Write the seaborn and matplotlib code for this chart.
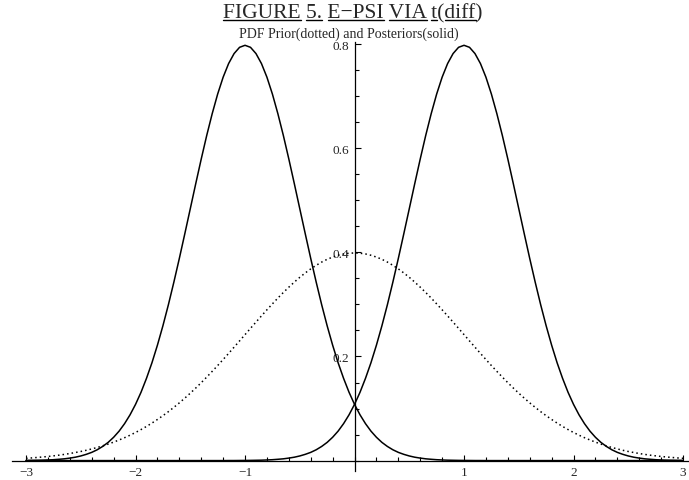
import numpy as np
import pandas as pd
import matplotlib
matplotlib.use('Agg')
import matplotlib.pyplot as plt
import seaborn as sns
from matplotlib.ticker import MultipleLocator
from matplotlib.lines import Line2D

# sample positions (every 0.05 from -3 to 3)
x = np.linspace(-3, 3, 121)

# prior density (dotted)
prior = [0.0044, 0.0051, 0.0060, 0.0069, 0.0079, 0.0091, 0.0104, 0.0119, 0.0136, 0.0155,
         0.0175, 0.0198, 0.0224, 0.0252, 0.0283, 0.0317, 0.0355, 0.0396, 0.0440, 0.0488,
         0.0540, 0.0596, 0.0656, 0.0721, 0.0790, 0.0863, 0.0940, 0.1023, 0.1109, 0.1200,
         0.1295, 0.1394, 0.1497, 0.1604, 0.1714, 0.1826, 0.1942, 0.2059, 0.2179, 0.2299,
         0.2420, 0.2541, 0.2661, 0.2780, 0.2897, 0.3011, 0.3123, 0.3230, 0.3332, 0.3429,
         0.3521, 0.3605, 0.3683, 0.3752, 0.3814, 0.3867, 0.3910, 0.3945, 0.3970, 0.3984,
         0.3989,
         0.3984, 0.3970, 0.3945, 0.3910, 0.3867, 0.3814, 0.3752, 0.3683, 0.3605, 0.3521,
         0.3429, 0.3332, 0.3230, 0.3123, 0.3011, 0.2897, 0.2780, 0.2661, 0.2541, 0.2420,
         0.2299, 0.2179, 0.2059, 0.1942, 0.1826, 0.1714, 0.1604, 0.1497, 0.1394, 0.1295,
         0.1200, 0.1109, 0.1023, 0.0940, 0.0863, 0.0790, 0.0721, 0.0656, 0.0596, 0.0540,
         0.0488, 0.0440, 0.0396, 0.0355, 0.0317, 0.0283, 0.0252, 0.0224, 0.0198, 0.0175,
         0.0155, 0.0136, 0.0119, 0.0104, 0.0091, 0.0079, 0.0069, 0.0060, 0.0051, 0.0044]

# posterior densities (solid)
post_left = [0.0003, 0.0004, 0.0006, 0.0008, 0.0012, 0.0017, 0.0025, 0.0034, 0.0048, 0.0065,
             0.0089, 0.0120, 0.0158, 0.0208, 0.0272, 0.0350, 0.0448, 0.0566, 0.0710, 0.0880,
             0.1080, 0.1312, 0.1580, 0.1880, 0.2218, 0.2590, 0.2994, 0.3428, 0.3884, 0.4358,
             0.4839, 0.5322, 0.5794, 0.6246, 0.6664, 0.7042, 0.7366, 0.7628, 0.7820, 0.7940,
             0.7979,
             0.7940, 0.7820, 0.7628, 0.7366, 0.7042, 0.6664, 0.6246, 0.5794, 0.5322, 0.4839,
             0.4358, 0.3884, 0.3428, 0.2994, 0.2590, 0.2218, 0.1880, 0.1580, 0.1312, 0.1080,
             0.0880, 0.0710, 0.0566, 0.0448, 0.0350, 0.0272, 0.0208, 0.0158, 0.0120, 0.0089,
             0.0065, 0.0048, 0.0034, 0.0025, 0.0017, 0.0012, 0.0008, 0.0006, 0.0004, 0.0003,
             0.0002, 0.0001, 0.0001, 0.0, 0.0, 0.0, 0.0, 0.0, 0.0, 0.0,
             0.0, 0.0, 0.0, 0.0, 0.0, 0.0, 0.0, 0.0, 0.0, 0.0,
             0.0, 0.0, 0.0, 0.0, 0.0, 0.0, 0.0, 0.0, 0.0, 0.0,
             0.0, 0.0, 0.0, 0.0, 0.0, 0.0, 0.0, 0.0, 0.0, 0.0]

post_right = [0.0, 0.0, 0.0, 0.0, 0.0, 0.0, 0.0, 0.0, 0.0, 0.0,
              0.0, 0.0, 0.0, 0.0, 0.0, 0.0, 0.0, 0.0, 0.0, 0.0,
              0.0, 0.0, 0.0, 0.0, 0.0, 0.0, 0.0, 0.0, 0.0, 0.0,
              0.0, 0.0, 0.0, 0.0, 0.0, 0.0, 0.0, 0.0001, 0.0001, 0.0002,
              0.0003, 0.0004, 0.0006, 0.0008, 0.0012, 0.0017, 0.0025, 0.0034, 0.0048, 0.0065,
              0.0089, 0.0120, 0.0158, 0.0208, 0.0272, 0.0350, 0.0448, 0.0566, 0.0710, 0.0880,
              0.1080, 0.1312, 0.1580, 0.1880, 0.2218, 0.2590, 0.2994, 0.3428, 0.3884, 0.4358,
              0.4839, 0.5322, 0.5794, 0.6246, 0.6664, 0.7042, 0.7366, 0.7628, 0.7820, 0.7940,
              0.7979,
              0.7940, 0.7820, 0.7628, 0.7366, 0.7042, 0.6664, 0.6246, 0.5794, 0.5322, 0.4839,
              0.4358, 0.3884, 0.3428, 0.2994, 0.2590, 0.2218, 0.1880, 0.1580, 0.1312, 0.1080,
              0.0880, 0.0710, 0.0566, 0.0448, 0.0350, 0.0272, 0.0208, 0.0158, 0.0120, 0.0089,
              0.0065, 0.0048, 0.0034, 0.0025, 0.0017, 0.0012, 0.0008, 0.0006, 0.0004, 0.0003]

x_ticks = [-3, -2, -1, 1, 2, 3]
x_labels = ['\u22123', '\u22122', '\u22121', '1', '2', '3']
y_ticks = [0.2, 0.4, 0.6, 0.8]
y_labels = ['0.2', '0.4', '0.6', '0.8']

# title pieces: (text, underlined)
title_parts = [('FIGURE', True), (' ', False), ('5.', True), (' ', False),
               ('E\u2212PSI', True), (' ', False), ('VIA', True), (' ', False),
               ('t', True), ('(', False), ('diff', True), (')', False)]
subtitle = 'PDF Prior(dotted) and Posteriors(solid)'

df = pd.DataFrame({
    'x': np.tile(x, 3),
    'density': prior + post_left + post_right,
    'curve': ['prior'] * 121 + ['post_left'] * 121 + ['post_right'] * 121,
})

sns.set_style('white')
serif = ['Liberation Serif', 'DejaVu Serif']
plt.rcParams['font.family'] = serif

W, H = 689, 481
fig = plt.figure(figsize=(W / 100, H / 100), dpi=100)
ax = fig.add_axes([11.8 / W, 9 / H, 676.7 / W, 429.4 / H])

sns.lineplot(data=df, x='x', y='density', style='curve',
             dashes={'prior': (1, 2), 'post_left': '', 'post_right': ''},
             color='black', linewidth=1.1, estimator=None, legend=False, ax=ax)

ax.set_xlim(-3.13, 3.05)
ax.set_ylim(-0.02, 0.805)
ax.set_xlabel('')
ax.set_ylabel('')

for side in ['top', 'right']:
    ax.spines[side].set_visible(False)
ax.spines['left'].set_position(('data', 0))
ax.spines['bottom'].set_position(('data', 0))
for side in ['left', 'bottom']:
    ax.spines[side].set_color('black')
    ax.spines[side].set_linewidth(0.9)

ax.set_xticks(x_ticks)
ax.set_xticklabels(x_labels)
ax.set_yticks(y_ticks)
ax.set_yticklabels(y_labels)
ax.xaxis.set_minor_locator(MultipleLocator(0.2))
ax.yaxis.set_minor_locator(MultipleLocator(0.05))
ax.tick_params(which='both', direction='in', color='black', width=0.8, labelsize=9.5,
               bottom=True, left=True, top=False, right=False)
ax.tick_params(which='major', length=4.5)
ax.tick_params(which='minor', length=3.2)
ax.tick_params(axis='x', pad=4)
ax.tick_params(axis='y', pad=4)

# title as one text; underlines found from the ink widths of its prefixes
fig.canvas.draw()
r = fig.canvas.get_renderer()
tsize = 15.5
full_title = ''.join(s for s, _ in title_parts)
cx = 353
base_y = H - 18
title = fig.text(cx / W, base_y / H, full_title, fontsize=tsize, family=serif,
                 ha='center', va='baseline')
left = title.get_window_extent(r).x0


def text_width(s):
    t = fig.text(0, 0, s, fontsize=tsize, family=serif)
    w = t.get_window_extent(r).width
    t.remove()
    return w


prefix = ''
for s, under in title_parts:
    prefix += s
    if under:
        end = left + text_width(prefix)
        start = end - text_width(s)
        fig.add_artist(Line2D([start / W, end / W], [(base_y - 3) / H] * 2,
                              transform=fig.transFigure, color='black', linewidth=1.0))

fig.text(349 / W, (H - 34) / H, subtitle, fontsize=10, family=serif, ha='center', va='center')

fig.savefig('out.png', dpi=100)
